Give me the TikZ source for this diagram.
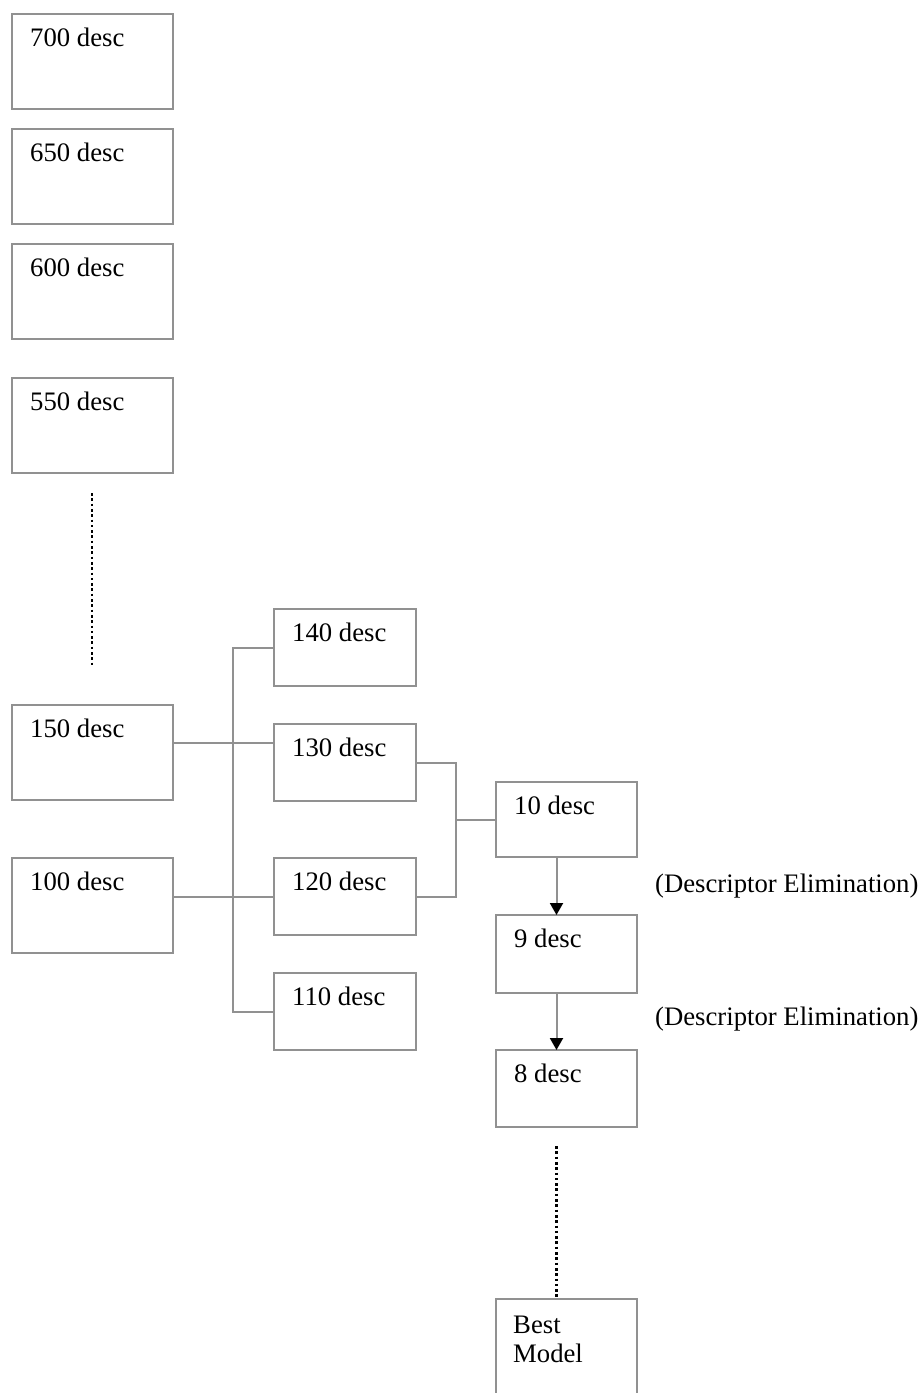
\documentclass[tikz,border=0pt]{standalone}
\usepackage{fontspec}
\setmainfont{Liberation Serif}
\usetikzlibrary{arrows.meta,calc}
\definecolor{edge}{RGB}{145,145,145}
\tikzset{
  box/.style={draw=edge, line width=2pt, rectangle, inner sep=0pt, outer sep=0pt, anchor=north west},
  widebox/.style={box, minimum width=161pt, minimum height=95pt},
  narrowbox/.style={box, minimum width=142pt, minimum height=77pt},
  txt/.style={anchor=base west, inner sep=0pt, font=\fontsize{26.7}{30}\selectfont},
  wire/.style={draw=edge, line width=2pt},
  flow/.style={wire, -{Triangle[width=13pt,length=12pt,color=black]}},
  dots/.style={draw=black, line width=2.4pt, dash pattern=on 2.6pt off 2.7pt}
}
\begin{document}
\begin{tikzpicture}[x=1pt, y=-1pt]
\path[use as bounding box] (0,0) rectangle (923,1393);
\clip (0,0) rectangle (923,1393);

% left column of descriptor sets
\node[widebox] (b700) at (12,14) {};
\node[widebox] (b650) at (12,129) {};
\node[widebox] (b600) at (12,244) {};
\node[widebox] (b550) at (12,378) {};
\node[widebox] (b150) at (12,705) {};
\node[widebox] (b100) at (12,858) {};
\node[txt] (t700) at ([shift={(18,32)}]b700.north west) {700 desc};
\node[txt] (t650) at ([shift={(18,32)}]b650.north west) {650 desc};
\node[txt] (t600) at ([shift={(18,32)}]b600.north west) {600 desc};
\node[txt] (t550) at ([shift={(18,32)}]b550.north west) {550 desc};
\node[txt] (t150) at ([shift={(18,32)}]b150.north west) {150 desc};
\node[txt] (t100) at ([shift={(18,32)}]b100.north west) {100 desc};

% middle column
\node[narrowbox] (b140) at (274,609) {};
\node[narrowbox] (b130) at (274,724) {};
\node[narrowbox] (b120) at (274,858) {};
\node[narrowbox] (b110) at (274,973) {};
\node[txt] (t140) at ([shift={(18,32)}]b140.north west) {140 desc};
\node[txt] (t130) at ([shift={(18,32)}]b130.north west) {130 desc};
\node[txt] (t120) at ([shift={(18,32)}]b120.north west) {120 desc};
\node[txt] (t110) at ([shift={(18,32)}]b110.north west) {110 desc};

% right column
\node[narrowbox, minimum width=141pt, minimum height=75pt] (b10) at (496,782) {};
\node[narrowbox, minimum width=141pt, minimum height=78pt] (b9) at (496,915) {};
\node[narrowbox, minimum width=141pt] (b8) at (496,1050) {};
\node[narrowbox, minimum width=141pt, minimum height=110pt] (best) at (496,1299) {};
\node[txt] (t10) at ([shift={(18,32)}]b10.north west) {10 desc};
\node[txt] (t9) at ([shift={(18,32)}]b9.north west) {9 desc};
\node[txt] (t8) at ([shift={(18,32)}]b8.north west) {8 desc};
\node[txt] (tbest1) at ([shift={(17,34)}]best.north west) {Best};
\node[txt] (tbest2) at ([shift={(17,63)}]best.north west) {Model};

\node[txt] (elim1) at (655,892) {(Descriptor Elimination)};
\node[txt] (elim2) at (655,1025) {(Descriptor Elimination)};

% guide coordinates for the wiring
\coordinate (trunk) at (233,0);
\coordinate (merge) at (456,0);
\coordinate (axis) at (556.5,0);
\coordinate (j150) at (233,743);
\coordinate (dotA) at (92,493);
\coordinate (dotB) at (92,666);

% elided steps
\draw[dots] (dotA) -- (dotB);
\draw[dots] (axis |- b8.south) ++(0,19) coordinate (dotC) -- (axis |- best.north);

% branching from 150 and 100
\draw[wire] (b150.east |- j150) -- (b130.west |- j150);
\draw[wire] (b100.east |- b120.west) -- (b120.west);
\draw[wire] (b140.west) -| (trunk |- b110.west) -- (b110.west);

% merging 130 and 120 into 10
\draw[wire] (b130.east) -| (merge |- b120.east) -- (b120.east);
\draw[wire] (merge |- b10.west) -- (b10.west);

% descriptor elimination steps
\draw[flow] (axis |- b10.south) -- (axis |- b9.north);
\draw[flow] (axis |- b9.south) -- (axis |- b8.north);
\end{tikzpicture}
\end{document}
